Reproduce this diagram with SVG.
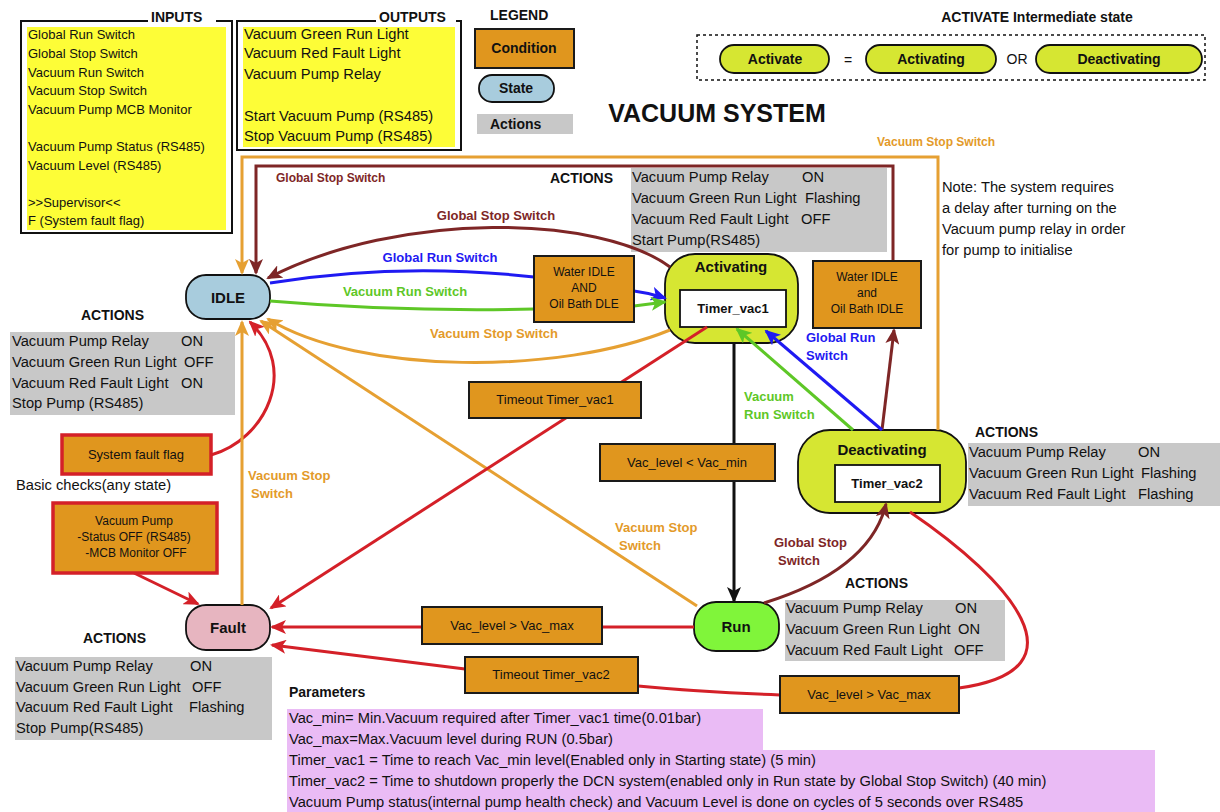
<svg xmlns="http://www.w3.org/2000/svg" width="1220" height="812" viewBox="0 0 1220 812">
<style>
text{font-family:"Liberation Sans",Arial,Helvetica,sans-serif;dominant-baseline:central;fill:#111}
.b{font-weight:bold}
.s12{font-size:12px}.s13{font-size:13px}.s14{font-size:14px}.s15{font-size:15px}.sb{font-size:14.7px}
.m{text-anchor:middle}
.cond{fill:#E0961E;stroke:#1a1a1a;stroke-width:2}
.fcond{fill:#E0961E;stroke:#D42028;stroke-width:3.5}
.act{fill:#C8C8C8}
.yel{fill:#FDFD37}
.pur{fill:#EABBF5}
.frame{fill:none;stroke:#111;stroke-width:2}
.st{stroke:#111;stroke-width:1.8}
.lime{fill:#D6E632}
.c{fill:none;stroke-width:3}
.red{stroke:#D42028}.brn{stroke:#7E2626}.blu{stroke:#1F1AF2}.grn{stroke:#5EC727}.org{stroke:#E6A032}.blk{stroke:#111}
.tred{fill:#D42028}.tbrn{fill:#7E2626}.tblu{fill:#1F1AF2}.tgrn{fill:#5EC727}.torg{fill:#E39A2A}
</style>
<defs>
<marker id="aRed" markerUnits="userSpaceOnUse" markerWidth="16" markerHeight="14" refX="14" refY="7" orient="auto"><path d="M0,0 L16,7 L0,14 L4,7 z" fill="#D42028"/></marker>
<marker id="aBrn" markerUnits="userSpaceOnUse" markerWidth="16" markerHeight="14" refX="14" refY="7" orient="auto"><path d="M0,0 L16,7 L0,14 L4,7 z" fill="#7E2626"/></marker>
<marker id="aBlu" markerUnits="userSpaceOnUse" markerWidth="16" markerHeight="14" refX="14" refY="7" orient="auto"><path d="M0,0 L16,7 L0,14 L4,7 z" fill="#1F1AF2"/></marker>
<marker id="aGrn" markerUnits="userSpaceOnUse" markerWidth="16" markerHeight="14" refX="14" refY="7" orient="auto"><path d="M0,0 L16,7 L0,14 L4,7 z" fill="#5EC727"/></marker>
<marker id="aOrg" markerUnits="userSpaceOnUse" markerWidth="16" markerHeight="14" refX="14" refY="7" orient="auto"><path d="M0,0 L16,7 L0,14 L4,7 z" fill="#E6A032"/></marker>
<marker id="aBlk" markerUnits="userSpaceOnUse" markerWidth="16" markerHeight="14" refX="14" refY="7" orient="auto"><path d="M0,0 L16,7 L0,14 L4,7 z" fill="#111"/></marker>
</defs>
<rect width="1220" height="812" fill="#fff"/>

<!-- Inputs -->
<g id="inputs">
<rect class="frame" x="21" y="21" width="211" height="212"/>
<rect class="yel" x="27" y="27" width="199" height="203"/>
<rect x="148" y="6" width="68" height="20" fill="#fff"/>
<text class="b s14" x="151" y="17">INPUTS</text>
<g class="s13">
<text x="28" y="34">Global Run Switch</text>
<text x="28" y="53">Global Stop Switch</text>
<text x="28" y="72">Vacuum Run Switch</text>
<text x="28" y="90">Vacuum Stop Switch</text>
<text x="28" y="109">Vacuum Pump MCB Monitor</text>
<text x="28" y="146">Vacuum Pump Status (RS485)</text>
<text x="28" y="165">Vacuum Level (RS485)</text>
<text x="28" y="202">&gt;&gt;Supervisor&lt;&lt;</text>
<text x="28" y="220">F (System fault flag)</text>
</g>
</g>

<!-- Outputs -->
<g id="outputs">
<rect class="frame" x="237" y="21" width="224" height="129"/>
<rect class="yel" x="243" y="27" width="212" height="120"/>
<rect x="376" y="6" width="80" height="20" fill="#fff"/>
<text class="b s14" x="379" y="17">OUTPUTS</text>
<g class="sb">
<text x="244" y="34">Vacuum Green Run Light</text>
<text x="244" y="53">Vacuum Red Fault Light</text>
<text x="244" y="74">Vacuum Pump Relay</text>
<text x="244" y="116">Start Vacuum Pump (RS485)</text>
<text x="244" y="136">Stop Vacuum Pump (RS485)</text>
</g>
</g>

<!-- Legend -->
<g id="legend">
<text class="b s14" x="490" y="15">LEGEND</text>
<rect class="cond" x="475" y="29" width="99" height="39"/>
<text class="b s14 m" x="524" y="48">Condition</text>
<rect x="479" y="75" width="75" height="27" rx="13" fill="#A8CCDD" class="st"/>
<text class="b s14 m" x="516" y="88">State</text>
<rect class="act" x="477" y="114" width="96" height="20"/>
<text class="b s14" x="490" y="124">Actions</text>
</g>

<!-- Activate intermediate legend -->
<g id="activate-legend">
<text class="b s14 m" x="1037" y="17">ACTIVATE Intermediate state</text>
<rect x="697" y="35" width="508" height="45" fill="none" stroke="#111" stroke-width="1.5" stroke-dasharray="3,3"/>
<rect class="lime st" x="720" y="45" width="109" height="28" rx="14"/>
<text class="b s14 m" x="775" y="59">Activate</text>
<text class="s14 m" x="848" y="60">=</text>
<rect class="lime st" x="866" y="45" width="130" height="28" rx="14"/>
<text class="b s14 m" x="931" y="59">Activating</text>
<text class="s14 m" x="1017" y="59">OR</text>
<rect class="lime st" x="1036" y="45" width="166" height="28" rx="14"/>
<text class="b s14 m" x="1119" y="59">Deactivating</text>
</g>

<text id="title" class="b m" x="717" y="113" style="font-size:25px">VACUUM  SYSTEM</text>

<!-- Note -->
<g id="note" class="sb">
<text x="942" y="187">Note: The system requires</text>
<text x="942" y="208">a delay after turning on the</text>
<text x="942" y="229">Vacuum pump  relay in order</text>
<text x="942" y="250">for pump to initialise</text>
</g>

<!-- Action boxes -->
<g id="actions-idle">
<text class="b s14" x="81" y="315">ACTIONS</text>
<rect class="act" x="10" y="332" width="225" height="83"/>
<g class="sb">
<text x="12" y="341">Vacuum Pump Relay</text><text x="181" y="341">ON</text>
<text x="12" y="362">Vacuum Green Run Light</text><text x="184" y="362">OFF</text>
<text x="12" y="383">Vacuum Red Fault Light</text><text x="181" y="383">ON</text>
<text x="12" y="403">Stop Pump (RS485)</text>
</g>
</g>
<g id="actions-activating">
<text class="b s14" x="550" y="178">ACTIONS</text>
<rect class="act" x="631" y="168" width="256" height="84"/>
<g class="sb">
<text x="632" y="177">Vacuum Pump Relay</text><text x="802" y="177">ON</text>
<text x="632" y="198">Vacuum Green Run Light</text><text x="805" y="198">Flashing</text>
<text x="632" y="219">Vacuum Red Fault Light</text><text x="801" y="219">OFF</text>
<text x="632" y="240">Start Pump(RS485)</text>
</g>
</g>
<g id="actions-deactivating">
<text class="b s14" x="975" y="432">ACTIONS</text>
<rect class="act" x="968" y="443" width="252" height="63"/>
<g class="sb">
<text x="969" y="452">Vacuum Pump Relay</text><text x="1138" y="452">ON</text>
<text x="969" y="473">Vacuum Green Run Light</text><text x="1141" y="473">Flashing</text>
<text x="969" y="494">Vacuum Red Fault Light</text><text x="1138" y="494">Flashing</text>
</g>
</g>
<g id="actions-run">
<text class="b s14" x="845" y="583">ACTIONS</text>
<rect class="act" x="785" y="600" width="220" height="61"/>
<g class="sb">
<text x="786" y="608">Vacuum Pump Relay</text><text x="955" y="608">ON</text>
<text x="786" y="629">Vacuum Green Run Light</text><text x="958" y="629">ON</text>
<text x="786" y="650">Vacuum Red Fault Light</text><text x="954" y="650">OFF</text>
</g>
</g>
<g id="actions-fault">
<text class="b s14" x="83" y="638">ACTIONS</text>
<rect class="act" x="15" y="657" width="257" height="83"/>
<g class="sb">
<text x="16" y="666">Vacuum Pump Relay</text><text x="190" y="666">ON</text>
<text x="16" y="687">Vacuum Green Run Light</text><text x="192" y="687">OFF</text>
<text x="16" y="707">Vacuum Red Fault Light</text><text x="189" y="707">Flashing</text>
<text x="16" y="728">Stop Pump(RS485)</text>
</g>
</g>

<!-- Parameters -->
<g id="parameters">
<text class="b s14" x="289" y="692">Parameters</text>
<rect class="pur" x="287" y="709" width="476" height="41"/>
<rect class="pur" x="287" y="750" width="868" height="62"/>
<g class="sb">
<text x="289" y="718">Vac_min= Min.Vacuum required after Timer_vac1 time(0.01bar)</text>
<text x="289" y="739">Vac_max=Max.Vacuum level during RUN (0.5bar)</text>
<text x="289" y="760">Timer_vac1 = Time to reach Vac_min level(Enabled only in Starting state) (5 min)</text>
<text x="289" y="781">Timer_vac2 = Time to shutdown properly the DCN system(enabled only in Run state by Global Stop Switch) (40 min)</text>
<text x="289" y="802">Vacuum Pump status(internal pump health check) and Vacuum Level is done on cycles of 5 seconds over RS485</text>
</g>
</g>

<!-- States -->
<g id="state-idle">
<rect x="186" y="275" width="84" height="44" rx="20" fill="#A8CCDD" class="st"/>
<text class="b s15 m" x="228" y="297">IDLE</text>
</g>
<g id="state-fault">
<rect x="186" y="605" width="84" height="45" rx="20" fill="#E7B5C0" class="st"/>
<text class="b s15 m" x="228" y="627">Fault</text>
</g>
<g id="state-run">
<rect x="694" y="602" width="85" height="49" rx="22" fill="#80F53A" class="st"/>
<text class="b s15 m" x="736" y="626">Run</text>
</g>
<g id="state-activating">
<rect class="lime st" x="665" y="254" width="133" height="89" rx="30"/>
<text class="b s15 m" x="731" y="266">Activating</text>
<rect x="680" y="290" width="106" height="37" fill="#fff" class="st"/>
<text class="b s13 m" x="733" y="308">Timer_vac1</text>
</g>
<g id="state-deactivating">
<rect class="lime st" x="798" y="430" width="168" height="83" rx="32"/>
<text class="b s15 m" x="882" y="449">Deactivating</text>
<rect x="835" y="465" width="105" height="37" fill="#fff" class="st"/>
<text class="b s13 m" x="887" y="483">Timer_vac2</text>
</g>

<!-- Connectors -->
<g id="connectors">
<path class="c org" d="M938,430 V157 H242 V273" marker-end="url(#aOrg)"/>
<path class="c brn" d="M893,261 V166 H256 V273" marker-end="url(#aBrn)"/>
<path class="c brn" d="M882,430 Q888,380 894,330" marker-end="url(#aBrn)"/>
<path class="c brn" d="M670,267 C600,215 400,210 268,278" marker-end="url(#aBrn)"/>
<path class="c blu" d="M270,283 Q400,262 534,277"/>
<path class="c blu" d="M634,291 Q650,293 665,298" marker-end="url(#aBlu)"/>
<path class="c grn" d="M270,301 Q400,312 534,309"/>
<path class="c grn" d="M634,306 L665,302" marker-end="url(#aGrn)"/>
<path class="c org" d="M670,330 C560,375 360,375 268,319" marker-end="url(#aOrg)"/>
<path class="c red" d="M211,455 C265,440 300,370 250,322" marker-end="url(#aRed)"/>
<path class="c org" d="M697,606 L261,321" marker-end="url(#aOrg)"/>
<path class="c org" d="M242,605 V322" marker-end="url(#aOrg)"/>
<path class="c red" d="M707,327 L271,608" marker-end="url(#aRed)"/>
<path class="c red" d="M134,573 L198,604" marker-end="url(#aRed)"/>
<path class="c blk" d="M734,343 V601" marker-end="url(#aBlk)"/>
<path class="c brn" d="M764,603 Q870,570 886,504" marker-end="url(#aBrn)"/>
<path class="c red" d="M910,512 C1010,580 1090,670 959,688"/>
<path class="c red" d="M780,695 Q700,692 638,686"/>
<path class="c red" d="M465,669 L272,645" marker-end="url(#aRed)"/>
<path class="c red" d="M694,627 H272" marker-end="url(#aRed)"/>
<path class="c blu" d="M882,430 L766,331" marker-end="url(#aBlu)"/>
<path class="c grn" d="M853,430 L737,329" marker-end="url(#aGrn)"/>
<g class="b">
<text class="s12 torg m" x="936" y="142">Vacuum Stop Switch</text>
<text class="s12 tbrn" x="276" y="178">Global Stop Switch</text>
<text class="s13 tbrn m" x="496" y="215">Global Stop Switch</text>
<text class="s13 tblu m" x="440" y="257">Global Run Switch</text>
<text class="s13 tgrn m" x="405" y="291">Vacuum Run Switch</text>
<text class="s13 torg m" x="494" y="333">Vacuum Stop Switch</text>
<text class="s13 torg" x="248" y="475">Vacuum Stop</text>
<text class="s13 torg" x="251" y="493">Switch</text>
<text class="s13 torg" x="615" y="527">Vacuum Stop</text>
<text class="s13 torg" x="619" y="545">Switch</text>
<text class="s13 tbrn" x="774" y="542">Global Stop</text>
<text class="s13 tbrn" x="778" y="560">Switch</text>
<text class="s13 tblu" x="806" y="337">Global Run</text>
<text class="s13 tblu" x="806" y="355">Switch</text>
<text class="s13 tgrn" x="744" y="396">Vacuum</text>
<text class="s13 tgrn" x="744" y="414">Run Switch</text>
</g>
</g>

<!-- Conditions -->
<g id="cond-water-and">
<rect class="cond" x="534" y="256" width="100" height="66"/>
<text class="s12 m" x="584" y="272">Water IDLE</text>
<text class="s12 m" x="584" y="288">AND</text>
<text class="s12 m" x="584" y="304">Oil Bath DLE</text>
</g>
<g id="cond-water-and2">
<rect class="cond" x="813" y="261" width="108" height="67"/>
<text class="s12 m" x="867" y="277">Water IDLE</text>
<text class="s12 m" x="867" y="293">and</text>
<text class="s12 m" x="867" y="309">Oil Bath IDLE</text>
</g>
<g id="cond-timeout1">
<rect class="cond" x="469" y="382" width="172" height="36"/>
<text class="s13 m" x="555" y="399">Timeout Timer_vac1</text>
</g>
<g id="cond-vacmin">
<rect class="cond" x="600" y="444" width="175" height="37"/>
<text class="s13 m" x="687" y="462">Vac_level &lt; Vac_min</text>
</g>
<g id="cond-vacmax1">
<rect class="cond" x="422" y="607" width="180" height="37"/>
<text class="s13 m" x="512" y="625">Vac_level &gt; Vac_max</text>
</g>
<g id="cond-timeout2">
<rect class="cond" x="465" y="657" width="173" height="36"/>
<text class="s13 m" x="551" y="674">Timeout Timer_vac2</text>
</g>
<g id="cond-vacmax2">
<rect class="cond" x="780" y="676" width="179" height="37"/>
<text class="s13 m" x="869" y="694">Vac_level &gt; Vac_max</text>
</g>
<g id="cond-fault-flag">
<rect class="fcond" x="62" y="435" width="149" height="39"/>
<text class="s13 m" x="136" y="454">System fault flag</text>
</g>
<text id="basic-checks" class="sb" x="16" y="485">Basic checks(any state)</text>
<g id="cond-pump">
<rect class="fcond" x="53" y="503" width="164" height="70"/>
<text class="s12 m" x="134" y="521">Vacuum Pump</text>
<text class="s12 m" x="134" y="537">-Status OFF (RS485)</text>
<text class="s12 m" x="136" y="553">-MCB Monitor OFF</text>
</g>
</svg>
